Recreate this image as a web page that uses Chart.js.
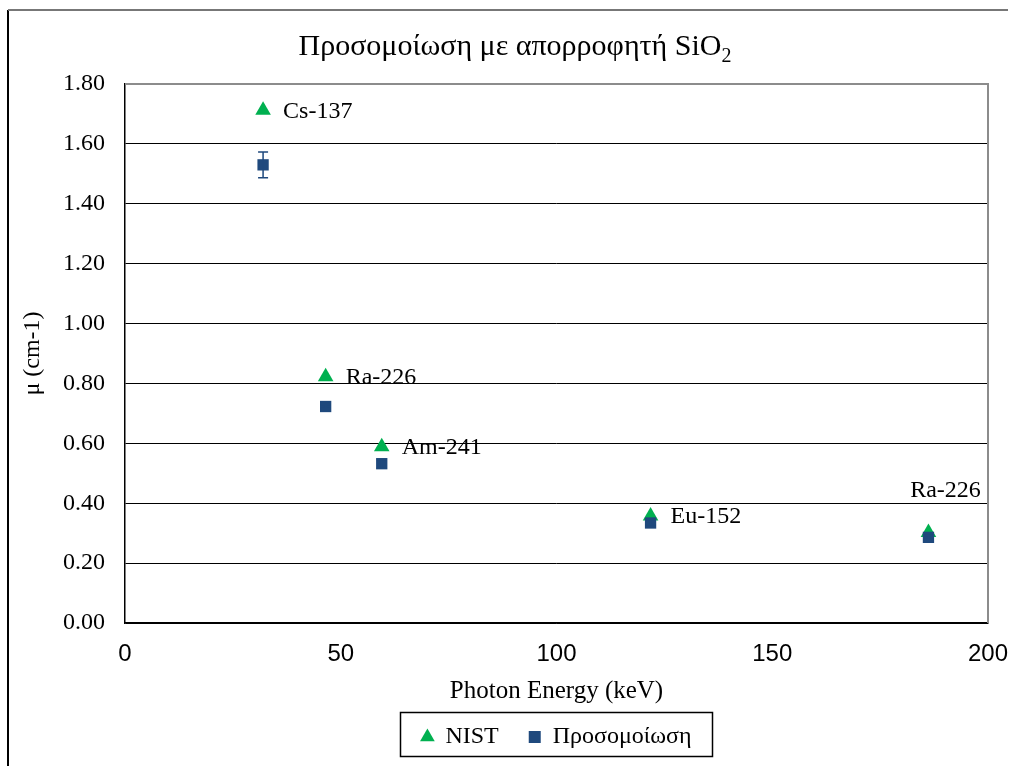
<!DOCTYPE html>
<html>
<head>
<meta charset="utf-8">
<script src="https://cdn.jsdelivr.net/npm/chart.js@4.4.1/dist/chart.umd.min.js"></script>
<style>
html,body{margin:0;padding:0;background:#fff;}
#wrap{width:1015px;height:766px;position:relative;}
</style>
</head>
<body>
<div id="wrap"><canvas id="c" width="1015" height="766"></canvas></div>
<script>
// ---- data ----
const sources = ["Cs-137", "Ra-226", "Am-241", "Eu-152", "Ra-226"];
const energies = [32.0, 46.5, 59.5, 121.8, 186.2];
const nistValues = [1.712, 0.822, 0.589, 0.357, 0.302];
const simValues = [1.530, 0.723, 0.532, 0.334, 0.286];
const simErrors = [0.043, 0.006, 0.014, 0.006, 0.006];
const yTicks = [0, 0.2, 0.4, 0.6, 0.8, 1.0, 1.2, 1.4, 1.6, 1.8];
const xTicks = [0, 50, 100, 150, 200];
const seriesNames = ["NIST", "Προσομοίωση"];
const chartTitle = "Προσομοίωση με απορροφητή SiO";
const chartTitleSub = "2";
const xTitle = "Photon Energy (keV)";
const yTitle = "μ (cm-1)";

const GREEN = "#00B050";
const NAVY = "#1F497D";
const SERIF = "'Liberation Serif', 'Times New Roman', serif";
const SANS = "'Liberation Sans', Arial, sans-serif";
const PAD_BOTTOM = 7;

const nistData = energies.map((x, i) => ({x, y: nistValues[i]}));
const simData = energies.map((x, i) => ({x, y: simValues[i]}));

const framePlugin = {
  id: 'frame',
  afterLayout(chart) {
    // center legend under the plot area
    const lg = chart.legend, a = chart.chartArea;
    if (lg) { lg.left = a.left; lg.right = a.right; }
  },
  beforeDraw(chart) {
    const ctx = chart.ctx;
    ctx.save();
    ctx.fillStyle = '#fff';
    ctx.fillRect(0, 0, chart.width, chart.height);
    // outer chart border
    ctx.strokeStyle = '#000';
    ctx.lineWidth = 2;
    ctx.beginPath();
    ctx.moveTo(8, 766); ctx.lineTo(8, 10);
    ctx.stroke();
    ctx.strokeStyle = '#777';
    ctx.lineWidth = 2;
    ctx.beginPath();
    ctx.moveTo(8, 10); ctx.lineTo(1008, 10);
    ctx.stroke();
    // title
    ctx.fillStyle = '#000';
    ctx.font = "30px " + SERIF;
    ctx.textBaseline = 'middle';
    const w1 = ctx.measureText(chartTitle).width;
    ctx.font = "20px " + SERIF;
    const w2 = ctx.measureText(chartTitleSub).width;
    const cx = 515;
    const x0 = cx - (w1 + w2) / 2;
    ctx.font = "30px " + SERIF;
    ctx.textAlign = 'left';
    ctx.fillText(chartTitle, x0, 47);
    ctx.font = "20px " + SERIF;
    ctx.fillText(chartTitleSub, x0 + w1, 57);
    ctx.restore();
  },
  afterDraw(chart) {
    const ctx = chart.ctx;
    const a = chart.chartArea;
    ctx.save();
    // plot area border (top/right gray)
    ctx.strokeStyle = '#8c8c8c';
    ctx.lineWidth = 2;
    ctx.beginPath();
    ctx.moveTo(a.left, a.top); ctx.lineTo(a.right, a.top); ctx.lineTo(a.right, a.bottom);
    ctx.stroke();
    // legend box
    const lg = chart.legend;
    if (lg && lg.legendHitBoxes && lg.legendHitBoxes.length) {
      const pad = lg.options.labels.padding;
      let total = 0;
      lg.legendHitBoxes.forEach(b => { total += b.width; });
      total += pad * (lg.legendHitBoxes.length - 1);
      const cx = (lg.left + lg.right) / 2;
      const bx = Math.round(cx - total / 2 - 21) + 0.5;
      ctx.strokeStyle = '#000';
      ctx.lineWidth = 1.5;
      ctx.strokeRect(bx, 712.5, Math.round(total + 42), 44);
    }
    ctx.restore();
  }
};

const errorBarPlugin = {
  id: 'errbars',
  afterDatasetsDraw(chart) {
    const ctx = chart.ctx;
    const xs = chart.scales.x, ys = chart.scales.y;
    ctx.save();
    ctx.strokeStyle = NAVY;
    ctx.lineWidth = 1.5;
    energies.forEach((e, i) => {
      const px = xs.getPixelForValue(e);
      const top = ys.getPixelForValue(simValues[i] + simErrors[i]);
      const bot = ys.getPixelForValue(simValues[i] - simErrors[i]);
      ctx.beginPath();
      ctx.moveTo(px, top); ctx.lineTo(px, bot);
      ctx.moveTo(px - 5, top); ctx.lineTo(px + 5, top);
      ctx.moveTo(px - 5, bot); ctx.lineTo(px + 5, bot);
      ctx.stroke();
    });
    // data labels
    ctx.fillStyle = '#000';
    ctx.font = "24px " + SERIF;
    ctx.textBaseline = 'middle';
    sources.forEach((s, i) => {
      const px = xs.getPixelForValue(energies[i]);
      const py = ys.getPixelForValue(nistValues[i]);
      if (i === sources.length - 1) {
        ctx.textAlign = 'center';
        ctx.fillText(s, px + 17, py - 42);
      } else {
        ctx.textAlign = 'left';
        ctx.fillText(s, px + 20, py + 1);
      }
    });
    ctx.restore();
  }
};

new Chart(document.getElementById('c'), {
  type: 'scatter',
  data: {
    datasets: [
      {
        label: seriesNames[0],
        data: nistData,
        pointStyle: 'triangle',
        pointRadius: 9,
        pointHoverRadius: 9,
        backgroundColor: GREEN,
        borderColor: GREEN,
        borderWidth: 0,
        order: 2
      },
      {
        label: seriesNames[1],
        data: simData,
        pointStyle: 'rect',
        pointRadius: 8,
        pointHoverRadius: 8,
        backgroundColor: NAVY,
        borderColor: NAVY,
        borderWidth: 0,
        order: 1
      }
    ]
  },
  options: {
    responsive: false,
    animation: false,
    events: [],
    layout: { padding: { top: 84, right: 27, left: 0, bottom: PAD_BOTTOM } },
    plugins: {
      title: { display: false },
      tooltip: { enabled: false },
      legend: {
        position: 'bottom',
        labels: {
          usePointStyle: true,
          boxWidth: 12,
          boxHeight: 12,
          padding: 30,
          color: '#000',
          font: { family: SERIF, size: 24 },
          generateLabels(chart) {
            return chart.data.datasets.map((ds, i) => ({
              text: ds.label,
              fillStyle: ds.backgroundColor,
              strokeStyle: ds.borderColor,
              lineWidth: 0,
              pointStyle: ds.pointStyle,
              hidden: false,
              datasetIndex: i,
              fontColor: '#000'
            }));
          }
        }
      }
    },
    scales: {
      x: {
        type: 'linear',
        min: 0, max: 200,
        afterBuildTicks(scale) { scale.ticks = xTicks.map(v => ({value: v})); },
        afterFit(scale) { scale.height = 766 - PAD_BOTTOM - scale.chart.legend.height - 623; },
        grid: { display: false, drawTicks: true, tickLength: 17 },
        border: { display: true, color: '#000', width: 1.5 },
        ticks: { color: '#000', font: { family: SANS, size: 24 }, padding: 0, maxRotation: 0 },
        title: { display: true, text: xTitle, color: '#000', font: { family: SERIF, size: 25 }, padding: { top: 0, bottom: -11 } }
      },
      y: {
        type: 'linear',
        min: 0, max: 1.8,
        afterBuildTicks(scale) { scale.ticks = yTicks.map(v => ({value: v})); },
        afterFit(scale) { scale.width = 125; },
        grid: { color: '#000', lineWidth: 1, drawTicks: false },
        border: { display: true, color: '#000', width: 1.5 },
        ticks: { color: '#000', font: { family: SERIF, size: 24 }, padding: 20, callback: v => v.toFixed(2) },
        title: { display: true, text: yTitle, color: '#000', font: { family: SERIF, size: 24 }, padding: { top: 18, bottom: 0 } }
      }
    }
  },
  plugins: [framePlugin, errorBarPlugin]
});
</script>
</body>
</html>
